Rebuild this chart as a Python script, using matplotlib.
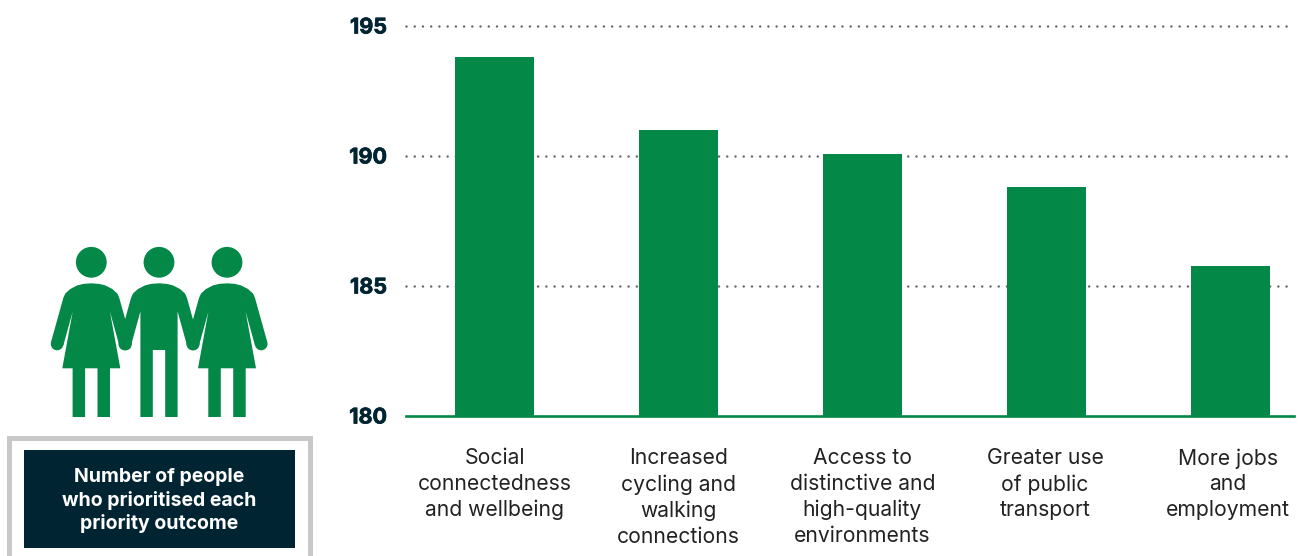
import matplotlib
matplotlib.use("Agg")
import matplotlib.pyplot as plt
import matplotlib.patheffects as pe
from matplotlib.patches import Circle, Polygon, Rectangle
from matplotlib.transforms import ScaledTranslation

plt.rcParams["font.family"] = ["Inter", "DejaVu Sans"]

# number of people per priority outcome
outcomes = [
    "Social\nconnectedness\nand wellbeing",
    "Increased\ncycling and\nwalking\nconnections",
    "Access to\ndistinctive and\nhigh-quality\nenvironments",
    "Greater use\nof public\ntransport",
    "More jobs\nand\nemployment",
]
people = [193.8, 191.0, 190.05, 188.8, 185.75]
yticks = [180, 185, 190, 195]
box_title = "Number of people\nwho prioritised each\npriority outcome"

GREEN = "#038847"
NAVY = "#012433"
W, H = 1306, 556

fig = plt.figure(figsize=(W / 100, H / 100), dpi=100, facecolor="white")

# backdrop axes in pixels, for the icon and the caption box
bg = fig.add_axes([0, 0, 1, 1])
bg.set_xlim(0, W)
bg.set_ylim(H, 0)
bg.axis("off")

SHOULDERS = [(0, 283.3), (8, 283.9), (14, 285.4), (21, 289), (26, 293.5), (28, 298)]
ARM = [(40.4, 342.5), (28, 345.5), (18.6, 311.5)]


def draw_torso(cx, outline):
    pts = [(cx + dx, y) for dx, y in outline]
    pts += [(cx - dx, y) for dx, y in reversed(outline)]
    bg.add_patch(Polygon(pts, closed=True, fc=GREEN, ec="none"))
    bg.add_patch(Circle((cx, 262.3), 15.4, fc=GREEN, ec="none"))
    for side in (-1, 1):
        bg.add_patch(Circle((cx + side * 34.2, 344), 6.3, fc=GREEN, ec="none"))


def draw_woman(cx):
    skirt = [(29, 368.3), (18.7, 368.3), (18.7, 417), (6.2, 417), (6.2, 368.3), (0, 368.3)]
    draw_torso(cx, SHOULDERS + ARM + skirt)


def draw_man(cx):
    legs = [(18.6, 417), (6.2, 417), (6.2, 350), (0, 350)]
    draw_torso(cx, SHOULDERS + ARM + legs)


draw_woman(91.3)
draw_man(159)
draw_woman(227)

# caption box with the open grey frame running off the bottom edge
bg.add_patch(Rectangle((8.5, 437.5), 301, 140, fc="white", ec="#c8c8c8", lw=3.6))
bg.add_patch(Rectangle((24, 450), 271, 98, fc=NAVY, ec="none"))
bg.text(159.5, 500.5, box_title, color="white", fontsize=14, fontweight="bold",
        ha="center", va="center", linespacing=1.3)

# bar chart
left, right, top, bottom = 406, 1293.5, 25.5, 415.5
ax = fig.add_axes([left / W, 1 - bottom / H, (right - left) / W, (bottom - top) / H])
ax.patch.set_alpha(0)
x = list(range(len(people)))
ax.bar(x, people, width=79 / 184, color=GREEN, zorder=2)
ax.set_xlim((left - 494.5) / 184, (right - 494.5) / 184)
ax.set_ylim(180, 195)

ax.set_yticks(yticks)
ax.set_yticklabels([str(t) for t in yticks], fontsize=15.5, fontweight="bold", color=NAVY)
for label in ax.get_yticklabels():
    label.set_path_effects([pe.withStroke(linewidth=0.5, foreground=NAVY)])
ax.set_xticks(x)
ax.set_xticklabels(outcomes, fontsize=15.2, color="#222222", linespacing=1.36, va="top")
ax.tick_params(axis="y", length=0, pad=13.7)
ax.tick_params(axis="x", length=0, pad=23.5)

# the last two labels sit slightly left of their bars
for label, px in zip(ax.get_xticklabels(), [0, 0, 0, -1.5, -2.5]):
    label.set_transform(label.get_transform() + ScaledTranslation(px / 100, 0, fig.dpi_scale_trans))

ax.set_axisbelow(True)
ax.yaxis.grid(True, color="#666666", linewidth=1.8, linestyle=(0, (0.01, 3.28)),
              dash_capstyle="round")
ax.xaxis.grid(False)
gridlines = ax.get_ygridlines()
gridlines[0].set_visible(False)
for line in gridlines:
    line.set_clip_on(False)

for name in ("top", "left", "right"):
    ax.spines[name].set_visible(False)
ax.spines["bottom"].set_color(GREEN)
ax.spines["bottom"].set_linewidth(1.9)

fig.savefig("out.png", dpi=100)
